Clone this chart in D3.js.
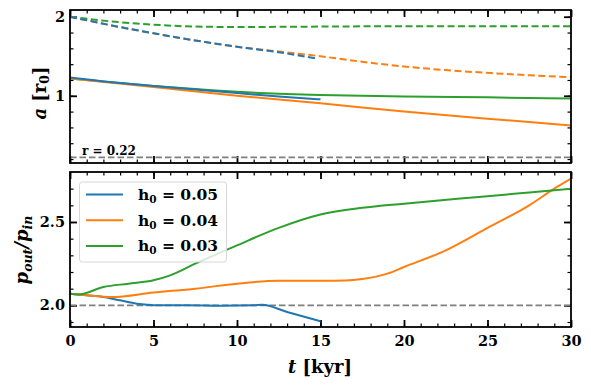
<!DOCTYPE html>
<html>
<head>
<meta charset="utf-8">
<script src="https://cdn.jsdelivr.net/npm/d3@7"></script>
<style>
  body { margin: 0; background: #fff; }
  text { font-family: "DejaVu Serif", serif; font-weight: bold; }
</style>
</head>
<body>
<div id="chart"></div>
<script>
// semi-major axis panel (top), values in r0
const tInner05 = [0, 2.5, 5, 7.5, 10, 12.5, 15];
const aInner05 = [1.23, 1.17, 1.125, 1.08, 1.035, 0.99, 0.955];
const tInner04 = [0, 5, 10, 15, 20, 25, 30];
const aInner04 = [1.22, 1.11, 1.0, 0.905, 0.80, 0.71, 0.625];
const tInner03 = [0, 2.5, 5, 7.5, 10, 12.5, 15, 20, 25, 30];
const aInner03 = [1.22, 1.17, 1.125, 1.085, 1.05, 1.025, 1.01, 0.99, 0.98, 0.965];

const tOuter05 = [0, 2.5, 5, 7.5, 10, 12.5, 14.8];
const aOuter05 = [2.0, 1.89, 1.79, 1.70, 1.62, 1.55, 1.47];
const tOuter04 = [0, 2.5, 5, 7.5, 10, 12.5, 15, 17.5, 20, 22.5, 25, 27.5, 30];
const aOuter04 = [2.0, 1.89, 1.79, 1.70, 1.62, 1.56, 1.50, 1.43, 1.37, 1.325, 1.29, 1.26, 1.235];
const tOuter03 = [0, 2.5, 5, 7.5, 10, 15, 20, 25, 30];
const aOuter03 = [2.0, 1.94, 1.90, 1.875, 1.87, 1.875, 1.88, 1.88, 1.88];

const rLimit = 0.22;

// period ratio panel (bottom)
const tRatio05 = [0, 1, 2, 3, 4, 4.5, 5, 7, 9, 11, 11.5, 13, 15];
const ratio05 = [2.07, 2.06, 2.05, 2.03, 2.01, 2.005, 2.0, 2.0, 1.998, 2.0, 2.003, 1.96, 1.905];
const tRatio04 = [0, 1, 2.5, 5, 7.5, 10, 12.5, 15, 16.5, 17.5, 19, 20, 22.5, 25, 27.5, 29, 30];
const ratio04 = [2.07, 2.06, 2.05, 2.077, 2.10, 2.13, 2.147, 2.147, 2.149, 2.158, 2.19, 2.23, 2.33, 2.465, 2.60, 2.70, 2.76];
const tRatio03 = [0, 0.5, 2, 3.5, 5, 6, 7.5, 10, 12.5, 15, 17.5, 20, 25, 30];
const ratio03 = [2.07, 2.065, 2.11, 2.13, 2.15, 2.18, 2.25, 2.36, 2.465, 2.545, 2.585, 2.61, 2.655, 2.70];

const resonance = 2.0;

const legendLabels = ["0.05", "0.04", "0.03"];
const colors = ["#1f77b4", "#ff7f0e", "#2ca02c"];

const xTicks = [0, 5, 10, 15, 20, 25, 30];
const aTicks = [1, 2];
const ratioTicks = [2.0, 2.5];

const W = 591, H = 387;
const svg = d3.select("#chart").append("svg")
  .attr("width", W).attr("height", H)
  .style("background", "#fff");

const left = 70, right = 571;
const topPanel = {y0: 10, y1: 163};
const botPanel = {y0: 172, y1: 327};

const x = d3.scaleLinear().domain([0, 30]).range([left, right]);
const yA = d3.scaleLinear().domain([0.15, 2.085]).range([topPanel.y1, topPanel.y0]);
const yR = d3.scaleLinear().domain([1.87, 2.80]).range([botPanel.y1, botPanel.y0]);

const zip = (ts, vs) => ts.map((t, i) => [t, vs[i]]);

function drawPanel(p, y, majorY, minorStep, fmt) {
  const g = svg.append("g");
  const clipId = "clip" + p.y0;
  svg.append("clipPath").attr("id", clipId)
    .append("rect").attr("x", left).attr("y", p.y0)
    .attr("width", right - left).attr("height", p.y1 - p.y0);

  const minorX = d3.range(0, 30.01, 1);
  const dom = y.domain();
  const minorY = d3.range(Math.ceil(dom[0] / minorStep) * minorStep, dom[1], minorStep);

  const axes = [
    [d3.axisBottom(x), `translate(0,${p.y1})`, minorX, xTicks],
    [d3.axisTop(x), `translate(0,${p.y0})`, minorX, xTicks],
    [d3.axisLeft(y), `translate(${left},0)`, minorY, majorY],
    [d3.axisRight(y), `translate(${right},0)`, minorY, majorY]
  ];
  axes.forEach(([ax, tr, minor, major]) => {
    g.append("g").attr("transform", tr)
      .call(ax.tickValues(minor).tickSize(-3.5).tickFormat(""))
      .call(s => s.select(".domain").remove())
      .call(s => s.selectAll("line").attr("stroke-width", 1.2));
    g.append("g").attr("transform", tr)
      .call(ax.tickValues(major).tickSize(-7).tickFormat(""))
      .call(s => s.select(".domain").remove())
      .call(s => s.selectAll("line").attr("stroke-width", 1.8));
  });

  // tick labels
  g.append("g").attr("transform", `translate(${left},0)`)
    .call(d3.axisLeft(y).tickValues(majorY).tickSize(0).tickPadding(5).tickFormat(fmt))
    .call(s => s.select(".domain").remove())
    .call(s => s.selectAll("text").style("font-size", "14.5px")
      .style("font-family", "DejaVu Serif").attr("font-weight", "bold"));

  return {g, clipId};
}

const pTop = drawPanel(topPanel, yA, aTicks, 0.2, d3.format("d"));
const pBot = drawPanel(botPanel, yR, ratioTicks, 0.1, d3.format(".1f"));

// x tick labels under bottom panel
svg.append("g").attr("transform", `translate(0,${botPanel.y1})`)
  .call(d3.axisBottom(x).tickValues(xTicks).tickSize(0).tickPadding(9).tickFormat(d3.format("d")))
  .call(s => s.select(".domain").remove())
  .call(s => s.selectAll("text").style("font-size", "14.5px")
    .style("font-family", "DejaVu Serif").attr("font-weight", "bold"));

const line = (y) => d3.line().x(d => x(d[0])).y(d => y(d[1])).curve(d3.curveMonotoneX);

// top panel lines
const gTop = svg.append("g").attr("clip-path", `url(#${pTop.clipId})`);
gTop.append("path").datum([[0, rLimit], [30, rLimit]])
  .attr("d", line(yA)).attr("fill", "none").attr("stroke", "#7f7f7f")
  .attr("stroke-width", 1.8).attr("stroke-dasharray", "6.5,3");

const topInner = [[tInner03, aInner03, 2], [tInner04, aInner04, 1], [tInner05, aInner05, 0]];
const topOuter = [[tOuter03, aOuter03, 2], [tOuter04, aOuter04, 1], [tOuter05, aOuter05, 0]];
topOuter.forEach(([t, v, c]) => {
  gTop.append("path").datum(zip(t, v)).attr("d", line(yA))
    .attr("fill", "none").attr("stroke", colors[c]).attr("stroke-width", 2)
    .attr("stroke-dasharray", "7,3.5");
});
topInner.forEach(([t, v, c]) => {
  gTop.append("path").datum(zip(t, v)).attr("d", line(yA))
    .attr("fill", "none").attr("stroke", colors[c]).attr("stroke-width", 2);
});

svg.append("text").attr("x", 82).attr("y", 155)
  .style("font-size", "12px").text(`r = ${rLimit}`);

// bottom panel lines
const gBot = svg.append("g").attr("clip-path", `url(#${pBot.clipId})`);
gBot.append("path").datum([[0, resonance], [30, resonance]])
  .attr("d", line(yR)).attr("fill", "none").attr("stroke", "#7f7f7f")
  .attr("stroke-width", 1.8).attr("stroke-dasharray", "6.5,3");
[[tRatio05, ratio05, 0], [tRatio04, ratio04, 1], [tRatio03, ratio03, 2]].forEach(([t, v, c]) => {
  gBot.append("path").datum(zip(t, v)).attr("d", line(yR))
    .attr("fill", "none").attr("stroke", colors[c]).attr("stroke-width", 2);
});

// frames
[topPanel, botPanel].forEach(p => {
  svg.append("rect").attr("x", left).attr("y", p.y0)
    .attr("width", right - left).attr("height", p.y1 - p.y0)
    .attr("fill", "none").attr("stroke", "#000").attr("stroke-width", 1.8);
});

// legend
const lg = svg.append("g");
lg.append("rect").attr("x", 79.5).attr("y", 182).attr("width", 147).attr("height", 80)
  .attr("rx", 3).attr("fill", "rgba(255,255,255,0.8)").attr("stroke", "#d8d8d8").attr("stroke-width", 1);
legendLabels.forEach((lab, i) => {
  const yy = 194.5 + i * 25.7;
  lg.append("line").attr("x1", 86).attr("x2", 123).attr("y1", yy).attr("y2", yy)
    .attr("stroke", colors[i]).attr("stroke-width", 2);
  const t = lg.append("text").attr("x", 138).attr("y", yy + 5.5).style("font-size", "15.5px");
  t.append("tspan").text("h");
  t.append("tspan").attr("dy", 3).style("font-size", "10.5px").text("0");
  t.append("tspan").attr("dy", -3).text(` = ${lab}`);
});

// axis labels
const la = svg.append("text").attr("transform", "translate(46,93) rotate(-90)")
  .attr("text-anchor", "middle").style("font-size", "18px");
la.append("tspan").style("font-style", "italic").text("a");
la.append("tspan").text(" [r");
la.append("tspan").attr("dy", 3).style("font-size", "12.5px").text("0");
la.append("tspan").attr("dy", -3).text("]");

const lp = svg.append("text").attr("transform", "translate(28,250) rotate(-90)")
  .attr("text-anchor", "middle").style("font-size", "18px").style("font-style", "italic");
lp.append("tspan").text("p");
lp.append("tspan").attr("dy", 4).style("font-size", "12.5px").text("out");
lp.append("tspan").attr("dy", -4).text("/p");
lp.append("tspan").attr("dy", 4).style("font-size", "12.5px").text("in");

const lt = svg.append("text").attr("x", 320).attr("y", 373)
  .attr("text-anchor", "middle").style("font-size", "18px");
lt.append("tspan").style("font-style", "italic").text("t");
lt.append("tspan").text(" [kyr]");
</script>
</body>
</html>
